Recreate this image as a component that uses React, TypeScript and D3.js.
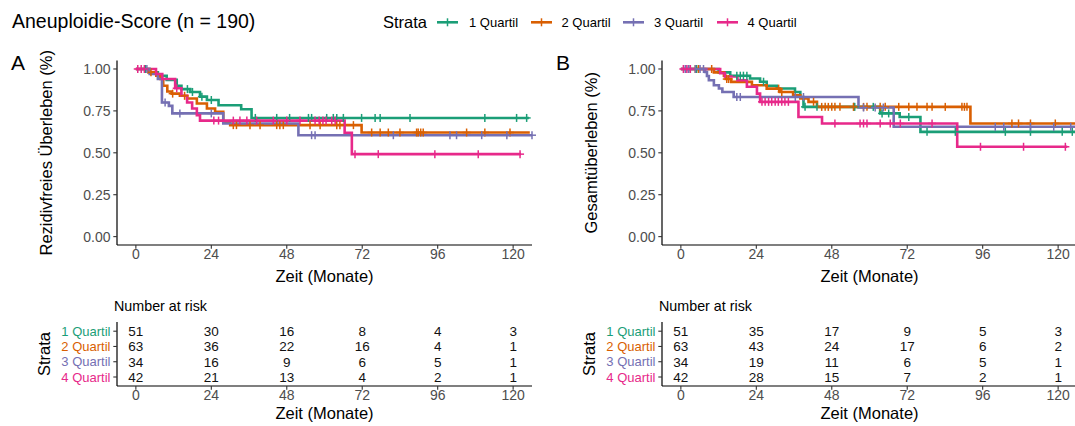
import React from 'react';
import * as d3 from 'd3';

const strata = ['1 Quartil', '2 Quartil', '3 Quartil', '4 Quartil'];
const colors = ['#1B9E77', '#D95F02', '#7570B3', '#E7298A'];
const timeTicks = [0, 24, 48, 72, 96, 120];
const survTicks = [0, 0.25, 0.5, 0.75, 1];

// Panel A: Rezidivfreies Überleben — [time, survival after step]
const rfsQ1 = [[0, 1], [4.4, 0.98], [7, 0.96], [9.8, 0.935], [13, 0.9], [14.5, 0.88], [17.3, 0.863], [20.4, 0.835], [22.6, 0.815], [26.3, 0.784], [33.5, 0.76], [36.8, 0.708]];
const rfsQ2 = [[0, 1], [4, 0.98], [6.5, 0.96], [7.8, 0.94], [8.7, 0.9], [10, 0.866], [11.4, 0.853], [14, 0.84], [16.3, 0.824], [19.4, 0.794], [22.6, 0.764], [25.2, 0.744], [27.8, 0.685], [30, 0.665], [71.8, 0.621]];
const rfsQ3 = [[0, 1], [4.4, 0.97], [7, 0.94], [8.3, 0.8], [10.5, 0.78], [11.6, 0.735], [27.8, 0.675], [51.7, 0.605]];
const rfsQ4 = [[0, 1], [6.4, 0.97], [8.4, 0.94], [12.5, 0.885], [14.5, 0.84], [16.3, 0.8], [17.9, 0.764], [19.4, 0.724], [20.4, 0.692], [66.4, 0.62], [68.7, 0.492]];
const rfsEnd = [125, 125.3, 126, 122.5];
const rfsCensQ1 = [3, 16.4, 18, 21, 24, 38, 44.8, 48.9, 54.9, 55.9, 60.7, 62.8, 63.9, 66, 71.8, 76.1, 77.7, 87.2, 111, 121.1, 124.3];
const rfsCensQ2 = [4.8, 11.7, 15.5, 31, 32, 36.3, 39.5, 44.8, 45.8, 46.9, 55.4, 58.6, 63.9, 64.9, 69.2, 75, 77.7, 80.3, 84, 89.3, 89.8, 90.6, 91.4, 105.2, 111, 119];
const rfsCensQ3 = [3.5, 9.3, 14, 24, 55.9, 57, 81.9, 99.9, 102, 110, 118, 126];
const rfsCensQ4 = [0.6, 1.7, 2.7, 13, 24.8, 26.3, 31, 33.1, 35.3, 38.4, 43.7, 48, 52.2, 57, 58.3, 59.5, 60.5, 62.3, 63.4, 69.7, 77.1, 95.1, 108.9, 122.2];
const rfsRiskQ1 = [51, 30, 16, 8, 4, 3];
const rfsRiskQ2 = [63, 36, 22, 16, 4, 1];
const rfsRiskQ3 = [34, 16, 9, 6, 5, 1];
const rfsRiskQ4 = [42, 21, 13, 4, 2, 1];

// Panel B: Gesamtüberleben
const osQ1 = [[0, 1], [12, 0.98], [15.7, 0.96], [22, 0.943], [25.2, 0.924], [27.3, 0.9], [30.5, 0.884], [36.3, 0.863], [38, 0.833], [39, 0.774], [63.4, 0.735], [69.6, 0.714], [76.2, 0.625]];
const osQ2 = [[0, 1], [10.5, 0.98], [13.7, 0.96], [14.3, 0.94], [16, 0.923], [22.6, 0.903], [27.3, 0.883], [31.5, 0.863], [35.7, 0.843], [38, 0.824], [40.6, 0.804], [43.3, 0.774], [92.1, 0.675]];
const osQ3 = [[0, 1], [7.7, 0.982], [8.3, 0.958], [8.9, 0.933], [10.5, 0.903], [12.1, 0.884], [13.2, 0.863], [16.8, 0.833], [56.5, 0.77], [67.7, 0.655]];
const osQ4 = [[0, 1], [12.5, 0.975], [14, 0.955], [18, 0.933], [21, 0.894], [24.2, 0.853], [25.2, 0.804], [37.4, 0.714], [44.9, 0.675], [87.9, 0.536]];
const osEnd = [125.5, 125.5, 125.5, 122.9];
const osCensQ1 = [3, 5, 17.8, 18.9, 19.9, 21, 26.3, 39.5, 43.3, 55, 55.3, 61.2, 64, 66.1, 72.5, 78.3, 87.3, 103.2, 111.2, 121.3, 124.5];
const osCensQ2 = [4.6, 5.6, 9.8, 14.6, 15.2, 31.1, 32.1, 42.2, 44.8, 45.9, 46.9, 48, 49, 50.6, 54.9, 58.1, 59.2, 63.4, 65, 69.3, 72.5, 75.1, 78.3, 79.9, 84.1, 89.4, 90.2, 91, 105.3, 107.4, 111.2, 119.1];
const osCensQ3 = [1.4, 2.4, 4.6, 6.1, 7.2, 17.8, 18.9, 36.4, 39, 58.1, 61.8, 64.4, 100, 102.7, 111.2, 118.6, 124];
const osCensQ4 = [0.8, 1.9, 3, 25.8, 26.8, 27.9, 28.9, 30, 31, 32.1, 33.1, 34.2, 49, 57, 58.1, 59.2, 63.4, 66.6, 69.8, 79.9, 95.3, 109, 122.3];
const osRiskQ1 = [51, 35, 17, 9, 5, 3];
const osRiskQ2 = [63, 43, 24, 17, 6, 2];
const osRiskQ3 = [34, 19, 11, 6, 5, 1];
const osRiskQ4 = [42, 28, 15, 7, 2, 1];

const FONT = '"Liberation Sans", Arial, Helvetica, sans-serif';
const GREY = '#4D4D4D';

function survAt(steps: number[][], t: number) {
  let s = 1;
  for (const [tt, v] of steps) if (tt <= t) s = v;
  return s;
}

type PanelProps = {
  dx: number;
  label: string;
  ylabel: string;
  steps: number[][][];
  ends: number[];
  cens: number[][];
  risk: number[][];
};

function Panel({ dx, label, ylabel, steps, ends, cens, risk }: PanelProps) {
  const x = d3.scaleLinear().domain([-6, 126]).range([117 + dx, 532 + dx]);
  const y = d3.scaleLinear().domain([-0.05, 1.05]).range([245, 60.6]);
  const rowY = d3.scalePoint<string>().domain(strata).range([331.2, 377]);
  const tableTop = 322;
  const tableAxis = 386;
  const line = d3
    .line<number[]>()
    .x((d) => x(d[0]))
    .y((d) => y(d[1]))
    .curve(d3.curveStepAfter);
  const axisLeft = 117 + dx;
  const axisRight = 532 + dx;
  return (
    <g fontFamily={FONT}>
      <text x={11 + dx} y={70} fontSize={21} fill="#000">{label}</text>
      {/* y axis title */}
      <text
        transform={`translate(${52 + dx},${152.8}) rotate(-90)`}
        textAnchor="middle"
        fontSize={16.5}
        fill="#000"
      >
        {ylabel}
      </text>
      {/* curves */}
      {steps.map((st, i) => (
        <path
          key={'c' + i}
          d={line([...st, [ends[i], st[st.length - 1][1]]]) || ''}
          fill="none"
          stroke={colors[i]}
          strokeWidth={2.6}
        />
      ))}
      {cens.map((cs, i) =>
        cs.map((t, j) => {
          const cx = x(t);
          const cy = y(survAt(steps[i], t));
          return (
            <g key={'m' + i + '-' + j} stroke={colors[i]} strokeWidth={1.5}>
              <line x1={cx} x2={cx} y1={cy - 4} y2={cy + 4} />
              <line x1={cx - 4} x2={cx + 4} y1={cy} y2={cy} />
            </g>
          );
        })
      )}
      {/* axes */}
      <line x1={axisLeft} x2={axisLeft} y1={60.6} y2={245} stroke="#000" strokeWidth={1.2} />
      <line x1={axisLeft} x2={axisRight} y1={245} y2={245} stroke="#000" strokeWidth={1.2} />
      {survTicks.map((v) => (
        <g key={'yt' + v}>
          <line x1={axisLeft - 3.7} x2={axisLeft} y1={y(v)} y2={y(v)} stroke="#333" strokeWidth={1.1} />
          <text x={axisLeft - 6.5} y={y(v) + 5} textAnchor="end" fontSize={14} fill={GREY}>
            {v.toFixed(2)}
          </text>
        </g>
      ))}
      {timeTicks.map((v) => (
        <g key={'xt' + v}>
          <line x1={x(v)} x2={x(v)} y1={245} y2={248.7} stroke="#333" strokeWidth={1.1} />
          <text x={x(v)} y={258.8} textAnchor="middle" fontSize={14} fill={GREY}>
            {v}
          </text>
        </g>
      ))}
      <text x={(axisLeft + axisRight) / 2} y={281.5} textAnchor="middle" fontSize={16.5} fill="#000">
        Zeit (Monate)
      </text>
      {/* risk table */}
      <text x={114 + dx} y={311} fontSize={14.3} fill="#000">Number at risk</text>
      <text
        transform={`translate(${50 + dx},${354}) rotate(-90)`}
        textAnchor="middle"
        fontSize={16.5}
        fill="#000"
      >
        Strata
      </text>
      <line x1={axisLeft} x2={axisLeft} y1={tableTop} y2={tableAxis} stroke="#000" strokeWidth={1.2} />
      <line x1={axisLeft} x2={axisRight} y1={tableAxis} y2={tableAxis} stroke="#000" strokeWidth={1.2} />
      {strata.map((s, i) => (
        <g key={'r' + i}>
          <line x1={axisLeft - 3.7} x2={axisLeft} y1={rowY(s)!} y2={rowY(s)!} stroke="#333" strokeWidth={1.1} />
          <text x={axisLeft - 6.5} y={rowY(s)! + 4.6} textAnchor="end" fontSize={13} fill={colors[i]}>
            {s}
          </text>
          {risk[i].map((n, j) => (
            <text key={j} x={x(timeTicks[j])} y={rowY(s)! + 4.8} textAnchor="middle" fontSize={13.5} fill="#111">
              {n}
            </text>
          ))}
        </g>
      ))}
      {timeTicks.map((v) => (
        <g key={'tt' + v}>
          <line x1={x(v)} x2={x(v)} y1={tableAxis} y2={tableAxis + 3.7} stroke="#333" strokeWidth={1.1} />
          <text x={x(v)} y={tableAxis + 14} textAnchor="middle" fontSize={14} fill={GREY}>
            {v}
          </text>
        </g>
      ))}
      <text x={(axisLeft + axisRight) / 2} y={418.5} textAnchor="middle" fontSize={16.5} fill="#000">
        Zeit (Monate)
      </text>
    </g>
  );
}

const legendKeyX = [437, 531, 623, 717];
const legendLabelX = [469, 561.5, 654, 747.5];

export default function App() {
  return (
    <svg
      width={1075}
      height={426}
      style={{ position: 'absolute', left: 0, top: 0, background: '#fff' }}
      fontFamily={FONT}
    >
      <rect x={0} y={0} width={1075} height={426} fill="#fff" />
      <text x={12} y={27.6} fontSize={19.5} fill="#000">Aneuploidie-Score (n = 190)</text>
      <text x={383} y={28.2} fontSize={16.5} fill="#000">Strata</text>
      {strata.map((s, i) => (
        <g key={'lg' + i}>
          <line x1={legendKeyX[i]} x2={legendKeyX[i] + 21} y1={22.3} y2={22.3} stroke={colors[i]} strokeWidth={2.6} />
          <line x1={legendKeyX[i] + 10.5} x2={legendKeyX[i] + 10.5} y1={18.3} y2={26.3} stroke={colors[i]} strokeWidth={1.5} />
          <text x={legendLabelX[i]} y={27} fontSize={13} fill="#000">{s}</text>
        </g>
      ))}
      <Panel
        dx={0}
        label="A"
        ylabel="Rezidivfreies Überleben (%)"
        steps={[rfsQ1, rfsQ2, rfsQ3, rfsQ4]}
        ends={rfsEnd}
        cens={[rfsCensQ1, rfsCensQ2, rfsCensQ3, rfsCensQ4]}
        risk={[rfsRiskQ1, rfsRiskQ2, rfsRiskQ3, rfsRiskQ4]}
      />
      <Panel
        dx={545}
        label="B"
        ylabel="Gesamtüberleben (%)"
        steps={[osQ1, osQ2, osQ3, osQ4]}
        ends={osEnd}
        cens={[osCensQ1, osCensQ2, osCensQ3, osCensQ4]}
        risk={[osRiskQ1, osRiskQ2, osRiskQ3, osRiskQ4]}
      />
    </svg>
  );
}
